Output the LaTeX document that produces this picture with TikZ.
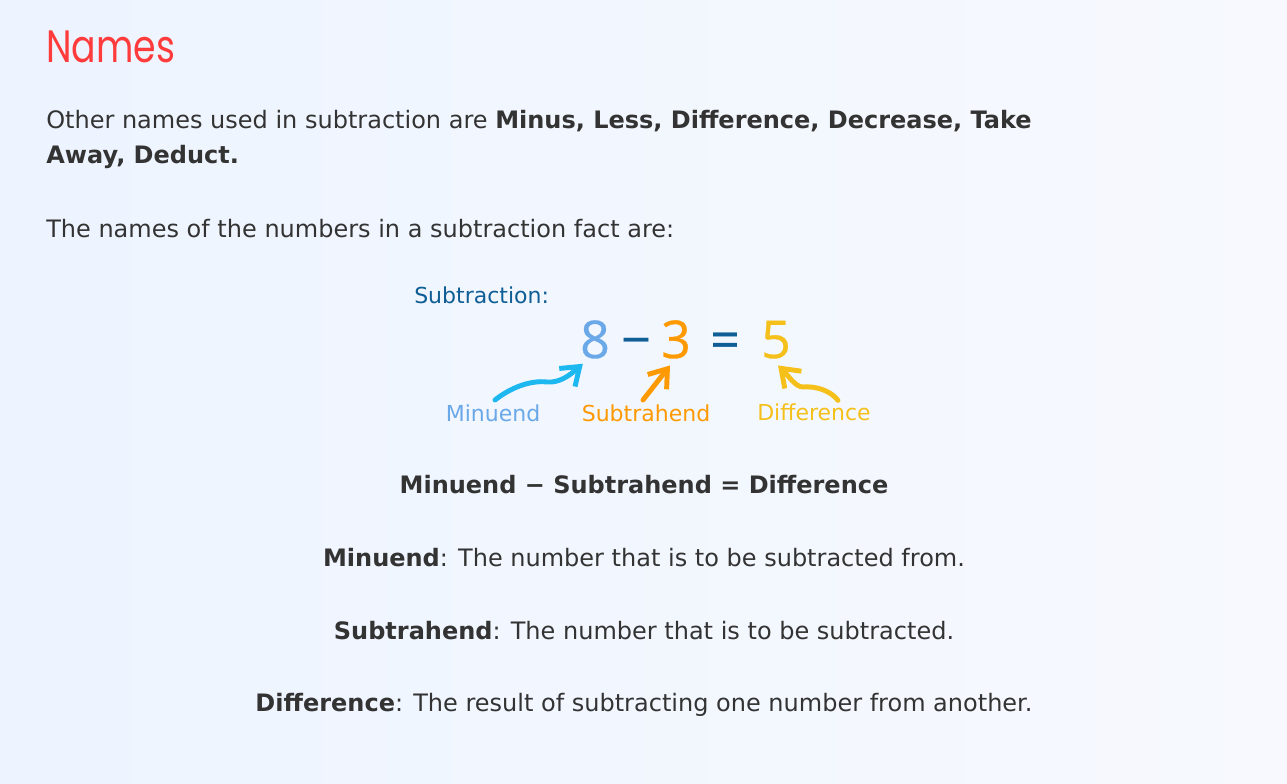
\documentclass[tikz,border=0pt]{standalone}
\usepackage{fontspec}
\setmainfont{DejaVu Sans}
\newfontfamily\titlefont[FakeStretch=0.8]{Poppins}
\newfontfamily\figfont{DejaVu Sans}
\newfontfamily\digitfont[FakeBold=0.6]{Open Sans}
\usetikzlibrary{arrows.meta}
\definecolor{ink}{HTML}{333333}
\definecolor{titlered}{HTML}{FF3B3B}
\definecolor{navy}{HTML}{0F5E95}
\definecolor{skyblue}{HTML}{6AA8E8}
\definecolor{cyanarrow}{HTML}{1EB8F0}
\definecolor{orange}{HTML}{FF9900}
\definecolor{gold}{HTML}{F5C01A}
\definecolor{pageleft}{HTML}{EDF4FF}
\definecolor{pageright}{HTML}{F7F9FE}
\begin{document}
\begin{tikzpicture}[x=0.75pt,y=-0.75pt,
    body/.style={anchor=base west,inner sep=0pt,text=ink,font=\fontsize{18}{21}\selectfont},
    centred/.style={body,anchor=base},
    figlabel/.style={anchor=base,inner sep=0pt,font=\figfont\fontsize{16.5}{20}\selectfont},
    digit/.style={anchor=base,inner sep=0pt,font=\digitfont\fontsize{39}{42}\selectfont},
    namearrow/.style={line width=3.7pt,line cap=round,-{Straight Barb[length=12.5pt,width=18pt,line width=3.7pt]}}]
  % page
  \shade[left color=pageleft,right color=pageright] (0,0) rectangle (1287,784);
  \useasboundingbox (0,0) rectangle (1287,784);
  % heading and text
  \node[anchor=base west,inner sep=0pt,text=titlered,font=\titlefont\fontsize{34}{40}\selectfont] (title) at (46,63) {Names};
  \node[body] (other) at (46,129) {Other names used in subtraction are \textbf{Minus, Less, Difference, Decrease, Take}};
  \node[body] (away) at (46,164) {\textbf{Away, Deduct.}};
  \node[body] (intro) at (46,238) {The names of the numbers in a subtraction fact are:};
  % the fact 8 - 3 = 5
  \node[figlabel,anchor=base west,text=navy] (subtr) at (414,303) {Subtraction:};
  \node[digit,text=skyblue] (eight) at (595,358) {8};
  \node[digit,text=navy] (minus) at (636,358) {−};
  \node[digit,text=orange] (three) at (676,358) {3};
  \node[digit,text=navy] (equals) at (725,358) {=};
  \node[digit,text=gold] (five) at (776,358) {5};
  \node[figlabel,text=skyblue] (minu) at (493,421) {Minuend};
  \node[figlabel,text=orange] (subt) at (646,421) {Subtrahend};
  \node[figlabel,text=gold] (diff) at (814,420) {Difference};
  \draw[namearrow,cyanarrow] ([xshift=1.5,yshift=3]minu.north) .. controls (510,388) and (530,380) .. (547,382)
    .. controls (560,383) and (570,375) .. ([xshift=2.25,yshift=-3.75]eight.south west);
  \draw[namearrow,orange] ([xshift=-2.25,yshift=3]subt.north) -- ([xshift=-4.5,yshift=-5]three.south);
  \draw[namearrow,gold] ([xshift=18,yshift=2]diff.north) .. controls (830,390) and (815,386) .. (803,387)
    .. controls (795,387) and (788,375) .. ([xshift=1.5,yshift=-5]five.south);
  % the names
  \node[centred,font=\bfseries\fontsize{18}{21}\selectfont] (rule) at (644,493) {Minuend − Subtrahend = Difference};
  \node[centred] (defmin) at (644,566) {\textbf{Minuend}: The number that is to be subtracted from.};
  \node[centred] (defsub) at (644,639) {\textbf{Subtrahend}: The number that is to be subtracted.};
  \node[centred] (defdif) at (644,711) {\textbf{Difference}: The result of subtracting one number from another.};
\end{tikzpicture}
\end{document}
